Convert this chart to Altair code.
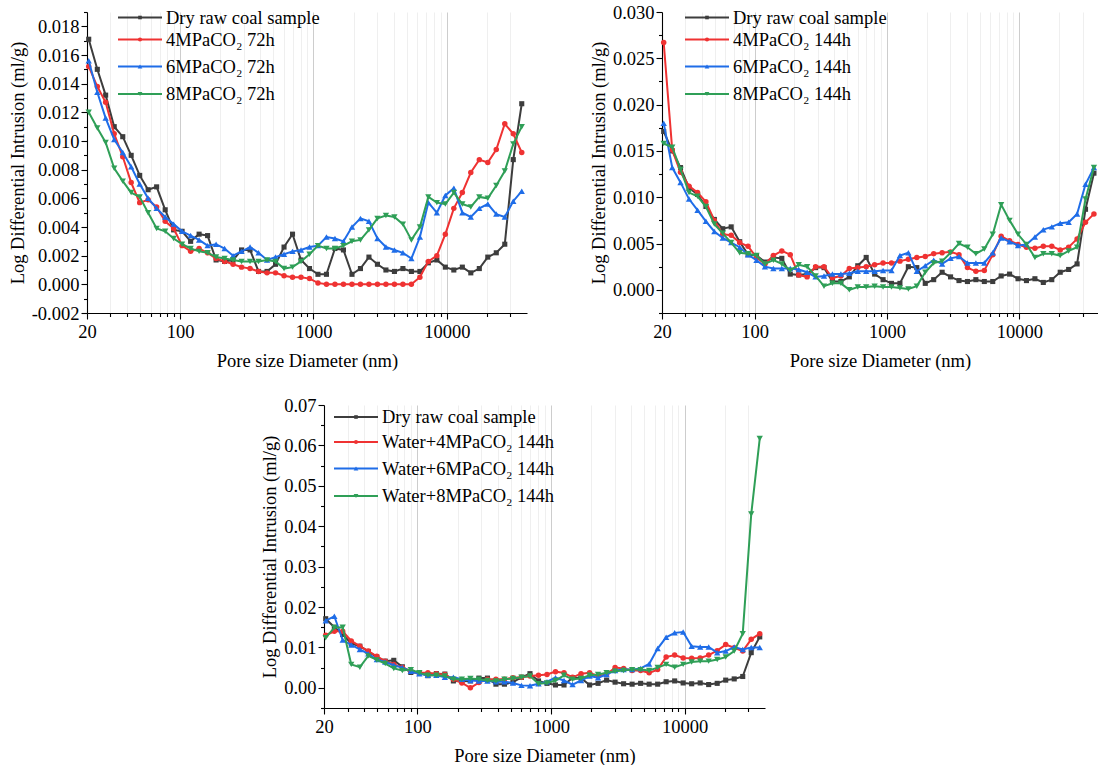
import altair as alt
import pandas as pd

# ---------------- data ----------------
pore_size_nm = [20.6, 23.9, 27.6, 32.0, 37.1, 42.9, 49.7, 57.5, 66.6, 77.2,
                89.3, 103.4, 119.8, 138.7, 160.6, 186.0, 215.4, 249.4, 288.8, 334.5,
                387.3, 448.5, 519.4, 601.5, 696.5, 806.6, 934.0, 1081, 1252, 1450,
                1679, 1945, 2252, 2608, 3020, 3497, 4050, 4689, 5430, 6288,
                7278, 8430, 9759, 11300, 13090, 15150, 17550, 20320, 23530, 27250,
                31550, 36530]

dry_raw_coal = [0.0171, 0.0150, 0.0132, 0.0110, 0.0103, 0.0090, 0.0076, 0.0066, 0.0068, 0.0052,
                0.0038, 0.0037, 0.0030, 0.0035, 0.0034, 0.0017, 0.0016, 0.0017, 0.0024, 0.0024,
                0.0009, 0.0009, 0.0014, 0.0026, 0.0035, 0.0017, 0.0011, 0.0007, 0.0007, 0.0025,
                0.0024, 0.0007, 0.0011, 0.0019, 0.0014, 0.0010, 0.0009, 0.0011, 0.0009, 0.0009,
                0.0015, 0.0017, 0.0012, 0.0010, 0.0012, 0.0008, 0.0011, 0.0019, 0.0022, 0.0028,
                0.0087, 0.0126]

co2_4mpa_72h = [0.0152, 0.0138, 0.0127, 0.0105, 0.0089, 0.0071, 0.0057, 0.0059, 0.0054, 0.0044,
                0.0039, 0.0027, 0.0023, 0.0025, 0.0022, 0.0018, 0.0016, 0.0014, 0.0012, 0.0011,
                0.0009, 0.0008, 0.0008, 0.0006, 0.0005, 0.0005, 0.0004, 0.0001, 0.0000, 0.0000,
                0.0000, 0.0000, 0.0000, 0.0000, 0.0000, 0.0000, 0.0000, 0.0000, 0.0000, 0.0005,
                0.0016, 0.0020, 0.0035, 0.0053, 0.0064, 0.0078, 0.0087, 0.0085, 0.0094, 0.0112,
                0.0105, 0.0092]
co2_6mpa_72h = [0.0156, 0.0134, 0.0116, 0.0101, 0.0092, 0.0082, 0.0070, 0.0060, 0.0053, 0.0047,
                0.0042, 0.0037, 0.0034, 0.0031, 0.0027, 0.0028, 0.0025, 0.0020, 0.0023, 0.0026,
                0.0022, 0.0017, 0.0019, 0.0021, 0.0023, 0.0024, 0.0026, 0.0027, 0.0033, 0.0032,
                0.0030, 0.0040, 0.0046, 0.0044, 0.0032, 0.0026, 0.0024, 0.0022, 0.0018, 0.0033,
                0.0057, 0.0050, 0.0062, 0.0067, 0.0050, 0.0047, 0.0053, 0.0056, 0.0049, 0.0047,
                0.0058, 0.0065]
co2_8mpa_72h = [0.0120, 0.0109, 0.0099, 0.0081, 0.0072, 0.0064, 0.0061, 0.0050, 0.0039, 0.0037,
                0.0032, 0.0028, 0.0025, 0.0023, 0.0022, 0.0019, 0.0018, 0.0017, 0.0016, 0.0016,
                0.0016, 0.0017, 0.0016, 0.0011, 0.0012, 0.0016, 0.0021, 0.0027, 0.0025, 0.0025,
                0.0027, 0.0030, 0.0031, 0.0038, 0.0046, 0.0048, 0.0047, 0.0042, 0.0031, 0.0040,
                0.0061, 0.0057, 0.0056, 0.0064, 0.0056, 0.0054, 0.0061, 0.0060, 0.0069, 0.0079,
                0.0098, 0.0110]

co2_4mpa_144h = [0.0267, 0.0151, 0.0127, 0.0112, 0.0105, 0.0095, 0.0075, 0.0060, 0.0059, 0.0051,
                 0.0047, 0.0035, 0.0028, 0.0037, 0.0042, 0.0038, 0.0016, 0.0014, 0.0025, 0.0025,
                 0.0013, 0.0015, 0.0023, 0.0024, 0.0025, 0.0027, 0.0029, 0.0029, 0.0031, 0.0033,
                 0.0035, 0.0036, 0.0039, 0.0040, 0.0041, 0.0038, 0.0024, 0.0020, 0.0021, 0.0038,
                 0.0058, 0.0053, 0.0049, 0.0046, 0.0045, 0.0047, 0.0047, 0.0043, 0.0046, 0.0055,
                 0.0073, 0.0082]
co2_6mpa_144h = [0.0180, 0.0132, 0.0116, 0.0098, 0.0086, 0.0074, 0.0063, 0.0056, 0.0051, 0.0046,
                 0.0038, 0.0032, 0.0025, 0.0023, 0.0023, 0.0023, 0.0022, 0.0019, 0.0014, 0.0015,
                 0.0017, 0.0017, 0.0018, 0.0020, 0.0020, 0.0020, 0.0021, 0.0021, 0.0037, 0.0040,
                 0.0020, 0.0026, 0.0032, 0.0028, 0.0034, 0.0036, 0.0029, 0.0029, 0.0029, 0.0040,
                 0.0056, 0.0052, 0.0048, 0.0049, 0.0057, 0.0065, 0.0068, 0.0072, 0.0073, 0.0082,
                 0.0114, 0.0132]
co2_8mpa_144h = [0.0158, 0.0154, 0.0130, 0.0105, 0.0101, 0.0090, 0.0071, 0.0061, 0.0051, 0.0040,
                 0.0039, 0.0037, 0.0028, 0.0032, 0.0028, 0.0021, 0.0027, 0.0025, 0.0015, 0.0004,
                 0.0007, 0.0007, 0.0000, 0.0003, 0.0003, 0.0004, 0.0003, 0.0003, 0.0002, 0.0001,
                 0.0004, 0.0019, 0.0029, 0.0031, 0.0040, 0.0050, 0.0046, 0.0039, 0.0044, 0.0060,
                 0.0092, 0.0075, 0.0060, 0.0049, 0.0035, 0.0039, 0.0039, 0.0037, 0.0042, 0.0046,
                 0.0098, 0.0132]

water_4mpa_144h = [0.0130, 0.0140, 0.0140, 0.0116, 0.0103, 0.0091, 0.0078, 0.0066, 0.0058, 0.0050,
                   0.0041, 0.0037, 0.0037, 0.0035, 0.0033, 0.0021, 0.0012, 0.0000, 0.0013, 0.0021,
                   0.0021, 0.0021, 0.0025, 0.0026, 0.0029, 0.0031, 0.0033, 0.0040, 0.0037, 0.0026,
                   0.0035, 0.0037, 0.0029, 0.0033, 0.0050, 0.0048, 0.0043, 0.0043, 0.0037, 0.0045,
                   0.0076, 0.0081, 0.0074, 0.0073, 0.0074, 0.0081, 0.0092, 0.0107, 0.0099, 0.0091,
                   0.0120, 0.0134]
water_6mpa_144h = [0.0166, 0.0177, 0.0118, 0.0106, 0.0095, 0.0084, 0.0070, 0.0064, 0.0056, 0.0050,
                   0.0041, 0.0035, 0.0031, 0.0031, 0.0026, 0.0026, 0.0021, 0.0018, 0.0017, 0.0017,
                   0.0015, 0.0015, 0.0012, 0.0006, 0.0005, 0.0010, 0.0015, 0.0025, 0.0018, 0.0008,
                   0.0018, 0.0029, 0.0025, 0.0033, 0.0043, 0.0045, 0.0045, 0.0048, 0.0059, 0.0097,
                   0.0125, 0.0136, 0.0138, 0.0103, 0.0101, 0.0101, 0.0087, 0.0091, 0.0101, 0.0095,
                   0.0100, 0.0100]
water_8mpa_144h = [0.0124, 0.0149, 0.0150, 0.0058, 0.0051, 0.0079, 0.0069, 0.0060, 0.0048, 0.0043,
                   0.0045, 0.0037, 0.0031, 0.0031, 0.0029, 0.0021, 0.0021, 0.0023, 0.0021, 0.0018,
                   0.0017, 0.0021, 0.0023, 0.0026, 0.0029, 0.0010, 0.0012, 0.0018, 0.0031, 0.0021,
                   0.0023, 0.0031, 0.0033, 0.0037, 0.0041, 0.0043, 0.0045, 0.0045, 0.0043, 0.0050,
                   0.0058, 0.0051, 0.0058, 0.0064, 0.0066, 0.0066, 0.0070, 0.0076, 0.0091, 0.0134,
                   0.0430, 0.0617]

panel1_labels = ["Dry raw coal sample", "4MPaCO\u2082 72h", "6MPaCO\u2082 72h", "8MPaCO\u2082 72h"]
panel2_labels = ["Dry raw coal sample", "4MPaCO\u2082 144h", "6MPaCO\u2082 144h", "8MPaCO\u2082 144h"]
panel3_labels = ["Dry raw coal sample", "Water+4MPaCO\u2082 144h", "Water+6MPaCO\u2082 144h",
                 "Water+8MPaCO\u2082 144h"]

x_tick_values = [20, 30, 40, 50, 60, 70, 80, 90, 100, 200, 300, 400, 500, 600, 700, 800, 900,
                 1000, 2000, 3000, 4000, 5000, 6000, 7000, 8000, 9000, 10000, 20000, 30000]
x_tick_labels = [20, 100, 1000, 10000]
x_major_grid = [100, 1000, 10000]
y1_ticks = [-0.002, -0.001, 0.0, 0.001, 0.002, 0.003, 0.004, 0.005, 0.006, 0.007, 0.008, 0.009,
            0.010, 0.011, 0.012, 0.013, 0.014, 0.015, 0.016, 0.017, 0.018, 0.019]
y2_ticks = [-0.0025, 0.0, 0.0025, 0.005, 0.0075, 0.010, 0.0125, 0.015, 0.0175, 0.020, 0.0225,
            0.025, 0.0275, 0.030]
y3_ticks = [-0.005, 0.0, 0.005, 0.01, 0.015, 0.02, 0.025, 0.03, 0.035, 0.04, 0.045, 0.05, 0.055,
            0.06, 0.065, 0.07]

for s in [dry_raw_coal, co2_4mpa_72h, co2_6mpa_72h, co2_8mpa_72h, co2_4mpa_144h, co2_6mpa_144h,
          co2_8mpa_144h, water_4mpa_144h, water_6mpa_144h, water_8mpa_144h]:
    assert len(s) == len(pore_size_nm), len(s)

# ---------------- styles ----------------
FONT = "Liberation Serif"
FS = 18.5
COLORS = ["#3d3d3d", "#ef3232", "#1f6de8", "#2f9f57"]
SHAPES = ["square", "circle", "triangle-up", "triangle-down"]
MARK_SIZES = [26, 30, 40, 40]
LEGEND_SIZES = [13, 17, 22, 22]
LINE_W = 2


def make_panel(labels, series, width, height, x_max, y_dom, y_ticks, y_mult, y_fmt,
               legend_x0, legend_rows):
    major = f"abs(round(datum.value * {y_mult})) % 2 === 0"
    x_lab_test = "indexof(" + str(x_tick_labels) + ", datum.value) >= 0"
    x_grid_test = "indexof(" + str(x_major_grid) + ", datum.value) >= 0"
    x_axis = alt.Axis(
        values=x_tick_values,
        labelExpr=f"{x_lab_test} ? format(datum.value, 'd') : ''",
        labelOverlap=False, labelFlush=False, labelPadding=3, titlePadding=11,
        grid=True, gridWidth=1,
        gridColor={"condition": {"test": x_grid_test, "value": "#cdcdcd"}, "value": "#efefef"},
        tickSize={"condition": {"test": x_lab_test, "value": 6}, "value": 3.5},
    )
    y_axis = alt.Axis(
        values=y_ticks,
        labelExpr=f"{major} ? replace(format(datum.value, '{y_fmt}'), '\u2212', '-') : ''",
        labelOverlap=False, labelFlush=False, labelPadding=2, titlePadding=4, grid=False,
        tickSize={"condition": {"test": major, "value": 6}, "value": 3.5},
    )
    x_enc = alt.X("d:Q", scale=alt.Scale(type="log", domain=[20, x_max], nice=False),
                  axis=x_axis, title="Pore size Diameter (nm)")
    y_enc = alt.Y("v:Q", scale=alt.Scale(domain=y_dom, nice=False, zero=False),
                  axis=y_axis, title="Log Differential Intrusion (ml/g)")
    layers = []
    for k, vals in enumerate(series):
        base = alt.Chart(pd.DataFrame({"d": pore_size_nm, "v": vals}))
        layers.append(base.mark_line(color=COLORS[k], strokeWidth=LINE_W).encode(x=x_enc, y=y_enc))
        layers.append(base.mark_point(shape=SHAPES[k], filled=True, color=COLORS[k],
                                      size=MARK_SIZES[k], opacity=1).encode(x=x_enc, y=y_enc))
    leg = pd.DataFrame({"label": labels, "ly": legend_rows, "lsize": LEGEND_SIZES,
                        "lcolor": COLORS, "lshape": SHAPES})
    leg["lx1"] = legend_x0
    leg["lx2"] = legend_x0 + 44
    leg["lxm"] = legend_x0 + 22
    leg["ltx"] = legend_x0 + 48
    col = alt.Color("lcolor:N", scale=None, legend=None)
    shp = alt.Shape("lshape:N", scale=None, legend=None)
    ly = alt.Y("ly:Q", scale=None, axis=None)
    lb = alt.Chart(leg)
    layers.append(lb.mark_rule(strokeWidth=LINE_W).encode(
        x=alt.X("lx1:Q", scale=None, axis=None), x2="lx2:Q", y=ly, color=col))
    layers.append(lb.mark_point(filled=True, opacity=1).encode(
        x=alt.X("lxm:Q", scale=None, axis=None), y=ly, color=col, shape=shp,
        size=alt.Size("lsize:Q", scale=None, legend=None)))
    layers.append(lb.mark_text(align="left", baseline="middle", font=FONT, fontSize=FS,
                               color="black").encode(
        x=alt.X("ltx:Q", scale=None, axis=None), y=ly, text="label:N"))
    return alt.layer(*layers).properties(width=width, height=height)


p1 = make_panel(panel1_labels, [dry_raw_coal, co2_4mpa_72h, co2_6mpa_72h, co2_8mpa_72h],
                440, 301, 40000, [-0.002, 0.019], y1_ticks, 1000, ".3f", 31,
                [5.5, 27.5, 54.5, 82])
p2 = make_panel(panel2_labels, [dry_raw_coal, co2_4mpa_144h, co2_6mpa_144h, co2_8mpa_144h],
                436, 301, 39200, [-0.0025, 0.030], y2_ticks, 400, ".3f", 23,
                [5.5, 27.5, 54.5, 82])
p3 = make_panel(panel3_labels, [dry_raw_coal, water_4mpa_144h, water_6mpa_144h, water_8mpa_144h],
                441, 303, 40000, [-0.005, 0.07], y3_ticks, 200, ".2f", 10,
                [12, 37, 63.5, 91])

spacer = alt.Chart(pd.DataFrame({"s": [0]})).mark_point(opacity=0).encode(
    x=alt.X("s:Q", axis=None), y=alt.Y("s:Q", axis=None)).properties(width=237, height=303)

top_row = alt.hconcat(p1, p2, spacing=135, bounds="flush")
bottom_row = alt.hconcat(spacer, p3, spacing=0, bounds="flush")

chart = alt.vconcat(top_row, bottom_row, spacing=26).properties(
    padding={"left": 8, "top": 3, "right": 0, "bottom": 0},
    background="white",
).configure(font=FONT).configure_view(stroke=None).configure_axis(
    labelFont=FONT, titleFont=FONT, labelFontSize=FS, titleFontSize=FS,
    titleFontWeight="normal", labelColor="black", titleColor="black",
    domainColor="black", tickColor="black", domainWidth=1.1, tickWidth=1.1,
)

chart.save("out.html", embed_options={"renderer": "svg", "actions": False})
